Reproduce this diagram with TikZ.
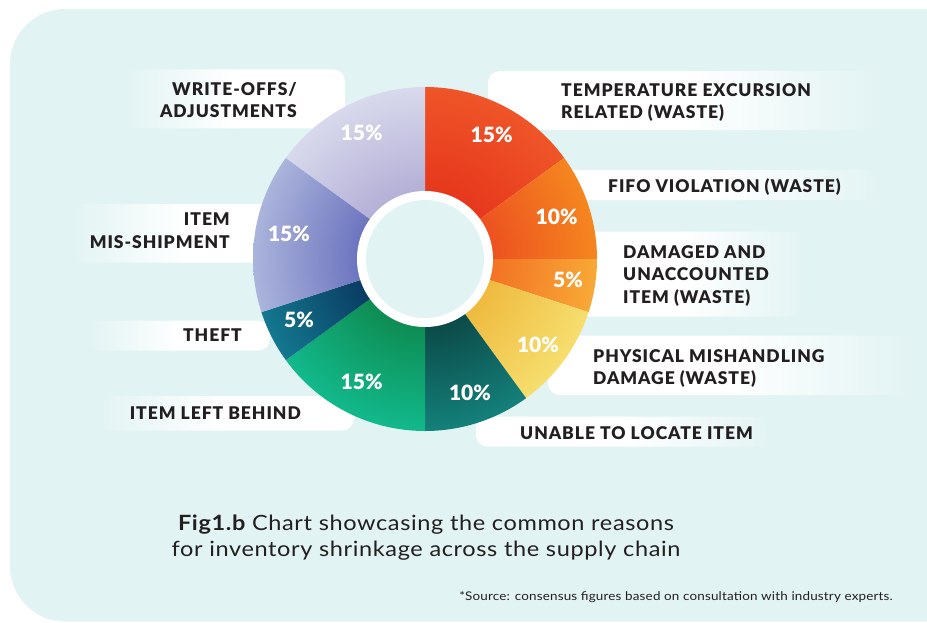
\documentclass[tikz,border=0pt]{standalone}
\usepackage{fontspec}
\setmainfont{Lato}
\newfontfamily\lblfam{Lato Black}[LetterSpace=5.5]
\newfontfamily\pctfam{Lato Black}
\newfontfamily\capfam{Lato}[FakeStretch=1.12, LetterSpace=3]
\newfontfamily\srcfam{Lato}[FakeStretch=1.12, LetterSpace=1.5]
\definecolor{panel}{HTML}{E2F3F3}
\definecolor{ink}{HTML}{231F20}
\definecolor{tempI}{HTML}{E6361C}\definecolor{tempO}{HTML}{EF5528}
\definecolor{fifoI}{HTML}{EC4F20}\definecolor{fifoO}{HTML}{F5861F}
\definecolor{dmgI}{HTML}{F26F23}\definecolor{dmgO}{HTML}{F8A936}
\definecolor{physI}{HTML}{EEB83C}\definecolor{physO}{HTML}{F6DE6E}
\definecolor{unabI}{HTML}{0B4846}\definecolor{unabO}{HTML}{14807A}
\definecolor{leftI}{HTML}{0E8A50}\definecolor{leftO}{HTML}{12B98C}
\definecolor{theftI}{HTML}{0A3860}\definecolor{theftO}{HTML}{13788F}
\definecolor{misI}{HTML}{6971BE}\definecolor{misO}{HTML}{ABB4DB}
\definecolor{wrI}{HTML}{B2ADD5}\definecolor{wrO}{HTML}{D8D9EC}
\pgfdeclarehorizontalshading{stripL}{100bp}{color(0bp)=(panel); color(25bp)=(panel); color(50bp)=(white); color(100bp)=(white)}
\pgfdeclarehorizontalshading{stripR}{100bp}{color(0bp)=(white); color(50bp)=(white); color(75bp)=(panel); color(100bp)=(panel)}
\newcommand\mkshade[3]{\pgfdeclareradialshading{#1}{\pgfpointorigin}{color(0bp)=(#2); color(9bp)=(#2); color(25bp)=(#3); color(50bp)=(#3)}}
\mkshade{shTemp}{tempI}{tempO}
\mkshade{shFifo}{fifoI}{fifoO}
\mkshade{shDmg}{dmgI}{dmgO}
\mkshade{shPhys}{physI}{physO}
\mkshade{shUnab}{unabI}{unabO}
\mkshade{shLeft}{leftI}{leftO}
\mkshade{shTheft}{theftI}{theftO}
\mkshade{shMis}{misI}{misO}
\mkshade{shWr}{wrI}{wrO}
\newcommand\donutR{172}
\newcommand\donutseg[3]{%
  \begin{scope}
    \clip (0,0) -- (#1:\donutR) arc[start angle=#1, end angle=#2, radius=\donutR] -- cycle;
    \shade[shading=#3] (0,0) circle[radius=\donutR];
  \end{scope}}
\tikzset{
  lbl/.style={font={\lblfam\fontsize{17.5}{22.5}\selectfont}, text=ink, inner sep=0pt},
  lblL/.style={lbl, anchor=north east, align=right},
  lblR/.style={lbl, anchor=north west, align=left},
  pct/.style={font={\pctfam\fontsize{21}{21}\selectfont}, text=white, inner sep=0pt},
  stripleft/.style={shading=stripL, rounded corners=12pt},
  stripright/.style={shading=stripR, rounded corners=12pt}
}
\begin{document}
\begin{tikzpicture}[x=1pt,y=1pt]
\useasboundingbox (0,0) rectangle (927,-622);
\fill[white] (0,0) rectangle (927,-622);
\fill[panel, rounded corners=55pt] (10,-9) rectangle (1000,-621.5);
% label strips
\shade[stripleft] (125,-69.3) rectangle (345,-128.3);
\shade[stripleft] (72,-204) rectangle (300,-262.7);
\shade[stripleft] (88,-320.7) rectangle (270,-350.7);
\shade[stripleft] (98,-396) rectangle (354,-430.5);
\shade[stripright] (488,-71) rectangle (880,-130);
\shade[stripright] (540,-170) rectangle (880,-200);
\shade[stripright] (560,-231.7) rectangle (805,-316.7);
\shade[stripright] (548,-335.7) rectangle (910,-395);
\shade[stripright] (476,-416.7) rectangle (772,-446.7);
% donut
\coordinate (c) at (425,-259);
\begin{scope}[shift={(c)}]
  \donutseg{90}{36}{shTemp}
  \donutseg{36}{0}{shFifo}
  \donutseg{0}{-18}{shDmg}
  \donutseg{-18}{-54}{shPhys}
  \donutseg{-54}{-90}{shUnab}
  \donutseg{-90}{-144}{shLeft}
  \donutseg{-144}{-162}{shTheft}
  \donutseg{-162}{-216}{shMis}
  \donutseg{-216}{-270}{shWr}
\end{scope}
\fill[white] (c) circle[radius=68];
\fill[panel] (c) circle[radius=59];
% percentages
\node[pct] (pTemp) at (491.7,-135) {15\%};
\node[pct] (pFifo) at (556.7,-216.7) {10\%};
\node[pct] (pDmg) at (568,-280) {5\%};
\node[pct] (pPhys) at (538,-345) {10\%};
\node[pct] (pUnab) at (470,-393) {10\%};
\node[pct] (pLeft) at (361.7,-381.7) {15\%};
\node[pct] (pTheft) at (299,-320) {5\%};
\node[pct] (pMis) at (289,-234) {15\%};
\node[pct] (pWr) at (361.7,-133) {15\%};
% labels
\node[lblL] (lWr) at (297,-81.7) {WRITE-OFFS/\\ADJUSTMENTS};
\node[lblL] (lMis) at (230,-213) {ITEM\\MIS-SHIPMENT};
\node[lblL] (lTheft) at (242,-329) {THEFT};
\node[lblL] (lLeft) at (301,-406.7) {ITEM LEFT BEHIND};
\node[lblR] (lTemp) at (561,-83) {TEMPERATURE EXCURSION\\RELATED (WASTE)};
\node[lblR] (lFifo) at (608,-178.3) {FIFO VIOLATION (WASTE)};
\node[lblR] (lDmg) at (623,-245) {DAMAGED AND\\UNACCOUNTED\\ITEM (WASTE)};
\node[lblR] (lPhys) at (593,-349) {PHYSICAL MISHANDLING\\DAMAGE (WASTE)};
\node[lblR] (lUnab) at (520,-426) {UNABLE TO LOCATE ITEM};
% caption
\node[anchor=north, align=center, inner sep=0pt, text=ink, font={\capfam\fontsize{21}{26}\selectfont}] (cap) at (426,-514.5)
  {{\bfseries Fig1.b} Chart showcasing the common reasons\\for inventory shrinkage across the supply chain};
\node[anchor=base east, inner sep=0pt, text=ink, font={\srcfam\fontsize{12}{14}\selectfont}] (src) at (893,-600)
  {*Source: consensus figures based on consultation with industry experts.};
\end{tikzpicture}
\end{document}
